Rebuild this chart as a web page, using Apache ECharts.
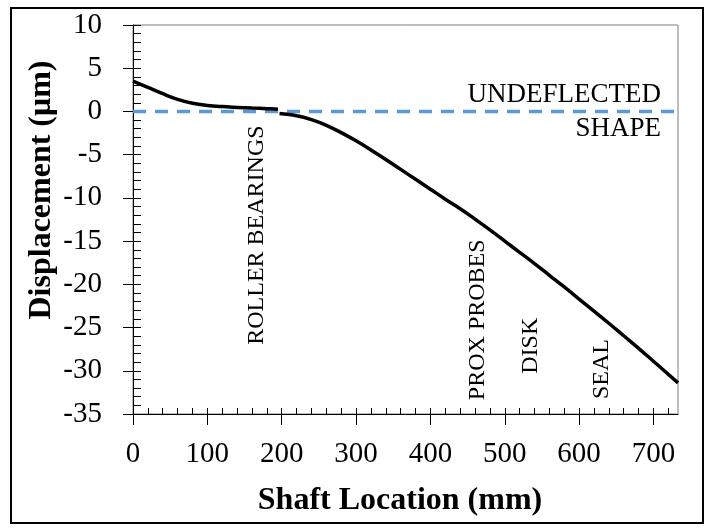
<!DOCTYPE html>
<html>
<head>
<meta charset="utf-8">
<script src="https://cdn.jsdelivr.net/npm/echarts@6/dist/echarts.min.js"></script>
<style>
    html, body { margin: 0; padding: 0; background: #fff; }
    #chart { width: 714px; height: 529px; }
</style>
</head>
<body>
<div id="chart"></div>
<script>
// shaft deflection (x in mm, displacement in µm)
const shaftX1 = [0, 20, 40, 60, 80, 100, 120, 140, 160, 180, 195];
const disp1 = [3.5, 2.78, 2.05, 1.4, 0.95, 0.7, 0.56, 0.47, 0.39, 0.32, 0.25];

const shaftX2 = [197, 220, 240, 260, 280, 300, 320, 340, 360, 380, 400, 420, 440, 460, 480, 500,
                 520, 540, 560, 580, 600, 620, 640, 660, 680, 700, 733];
const disp2 = [-0.25, -0.5, -0.95, -1.6, -2.45, -3.4, -4.45, -5.55, -6.7, -7.85, -9.0, -10.15, -11.25, -12.45, -13.7, -15.0,
               -16.3, -17.6, -18.95, -20.3, -21.7, -23.1, -24.5, -25.95, -27.4, -28.9, -31.4];

// undeflected reference line
const baseX = [0, 733];
const baseY = [0, 0];

// axis ticks
const xTicks = [0, 100, 200, 300, 400, 500, 600, 700];
const yTicks = [-35, -30, -25, -20, -15, -10, -5, 0, 5, 10];

// component labels (data coords of the text centre)
const markNames = ['ROLLER BEARINGS', 'PROX PROBES', 'DISK', 'SEAL'];
const markX = [166, 464, 535, 631];
const markY = [-14.3, -24.1, -27.1, -29.8];

const refNames = ['UNDEFLECTED', 'SHAPE'];
const refX = [710, 710];
const refY = [1.93, -2.06];

const X_MAX = 733;
const FONT = '"Liberation Serif", "Times New Roman", serif';

document.addEventListener('DOMContentLoaded', function () {
    const chart = echarts.init(document.getElementById('chart'));

    const xMinor = [];
    for (let v = 0; v <= 720; v += 20) xMinor.push(v);
    const yMinor = [];
    for (let v = -35; v <= 10; v += 1) yMinor.push(v);

    const zip = (xs, ys) => xs.map((x, i) => [x, ys[i]]);

    const option = {
        animation: false,
        grid: {
            left: 133, right: 36, top: 25, bottom: 115,
            show: true, borderColor: '#7f7f7f', borderWidth: 1
        },
        xAxis: [{
            type: 'value', min: 0, max: X_MAX, position: 'bottom',
            axisLine: { onZero: false, lineStyle: { color: '#000', width: 1 } },
            axisTick: { show: true, inside: false, length: 11, lineStyle: { color: '#000' }, customValues: xTicks },
            axisLabel: { customValues: xTicks, margin: 26, color: '#000', fontFamily: FONT, fontSize: 29 },
            splitLine: { show: false }
        }, {
            type: 'value', min: 0, max: X_MAX, position: 'bottom',
            axisLine: { show: false, onZero: false },
            axisTick: { show: true, inside: true, length: 6, lineStyle: { color: '#000' }, customValues: xMinor },
            axisLabel: { show: false },
            splitLine: { show: false }
        }],
        yAxis: [{
            type: 'value', min: -35, max: 10, position: 'left',
            axisLine: { show: true, onZero: false, lineStyle: { color: '#000', width: 1 } },
            axisTick: { show: true, inside: false, length: 10, lineStyle: { color: '#000' }, customValues: yTicks },
            axisLabel: { customValues: yTicks, margin: 31, color: '#000', fontFamily: FONT, fontSize: 29 },
            splitLine: { show: false }
        }, {
            type: 'value', min: -35, max: 10, position: 'left',
            axisLine: { show: false, onZero: false },
            axisTick: { show: true, inside: true, length: 8, lineStyle: { color: '#000' }, customValues: yMinor },
            axisLabel: { show: false },
            splitLine: { show: false }
        }],
        series: [{
            type: 'line',
            data: zip(baseX, baseY),
            showSymbol: false,
            lineStyle: { color: '#5B9BD5', width: 3.5, type: [13, 9], cap: 'butt' }
        }, {
            type: 'line',
            data: zip(shaftX1, disp1),
            showSymbol: false, smooth: 0.4,
            lineStyle: { color: '#000', width: 3.5 }
        }, {
            type: 'line',
            data: zip(shaftX2, disp2),
            showSymbol: false, smooth: 0.4,
            lineStyle: { color: '#000', width: 3.5 }
        }]
    };
    chart.setOption(option);

    const graphics = [];
    // outer frame
    graphics.push({
        type: 'rect', shape: { x: 11, y: 8, width: 692, height: 515 },
        style: { fill: null, stroke: '#000', lineWidth: 2 }, silent: true
    });
    // axis titles
    graphics.push({
        type: 'text', x: 400, y: 501,
        style: { text: 'Shaft Location (mm)', font: 'bold 32px ' + FONT, fill: '#000', align: 'center', verticalAlign: 'middle' }
    });
    graphics.push({
        type: 'text', x: 42, y: 190, rotation: Math.PI / 2,
        style: { text: 'Displacement (μm)', font: 'bold 32px ' + FONT, fill: '#000', align: 'center', verticalAlign: 'middle' }
    });
    // vertical component labels
    markNames.forEach(function (name, i) {
        const p = chart.convertToPixel({ gridIndex: 0 }, [markX[i], markY[i]]);
        graphics.push({
            type: 'text', x: p[0], y: p[1], rotation: Math.PI / 2,
            style: { text: name, font: '24px ' + FONT, fill: '#000', align: 'center', verticalAlign: 'middle' }
        });
    });
    // undeflected shape label
    refNames.forEach(function (name, i) {
        const p = chart.convertToPixel({ gridIndex: 0 }, [refX[i], refY[i]]);
        graphics.push({
            type: 'text', x: p[0], y: p[1],
            style: { text: name, font: '27px ' + FONT, fill: '#000', align: 'right', verticalAlign: 'middle' }
        });
    });
    chart.setOption({ graphic: graphics });
});
</script>
</body>
</html>
